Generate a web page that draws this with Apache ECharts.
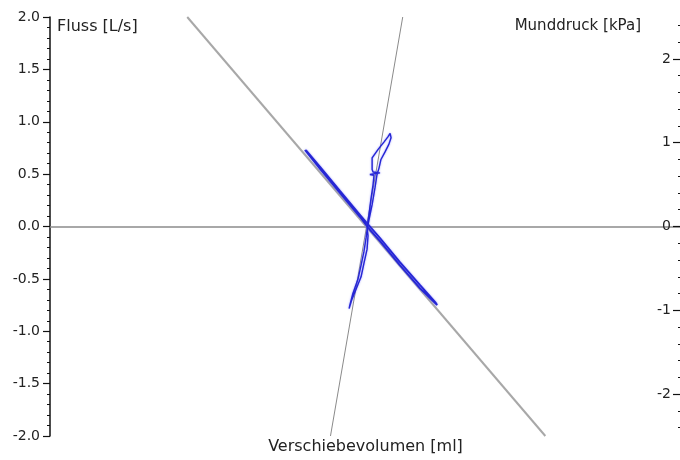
<!DOCTYPE html>
<html>
<head>
<meta charset="utf-8">
<script src="https://cdn.jsdelivr.net/npm/echarts@6/dist/echarts.min.js"></script>
<style>
  html, body { margin: 0; padding: 0; background: #ffffff; }
  #chart { width: 680px; height: 460px; }
</style>
</head>
<body>
<div id="chart"></div>
<script>
// Tick values for the pressure (right) axis
const pressureTicks = [-2, -1, 0, 1, 2];
const pressureMinorTicks = [-2.4, -2.2, -1.8, -1.6, -1.4, -1.2, -0.8, -0.6, -0.4, -0.2,
                            0.2, 0.4, 0.6, 0.8, 1.2, 1.4, 1.6, 1.8, 2.2, 2.4];

// Fitted lines: [Verschiebevolumen, Fluss] and [Verschiebevolumen, Munddruck]
const flowFitLine = [[-5.65, 2.0], [5.70, -2.0]];
const pressureFitLine = [[1.18, 2.5], [-1.11, -2.5]];

// Resistance loop: shift volume [ml] vs flow [L/s]
const flowLoop = [
  [-1.92, 0.73], [-1.44, 0.55], [-0.81, 0.32], [-0.17, 0.09], [0.08, -0.01],
  [0.46, -0.14], [1.09, -0.37], [1.73, -0.59], [2.27, -0.75],
  [2.23, -0.73], [1.73, -0.56], [1.09, -0.34], [0.46, -0.11], [0.08, 0.02],
  [-0.17, 0.11], [-0.81, 0.34], [-1.44, 0.57], [-1.89, 0.73]
];

// Occlusion loop: shift volume [ml] vs mouth pressure [kPa]
const pressureLoop = [
  [0.05, -0.01], [0.11, 0.14], [0.17, 0.32], [0.24, 0.50], [0.27, 0.61],
  [0.14, 0.62], [0.46, 0.64], [0.24, 0.65], [0.21, 0.68], [0.21, 0.82],
  [0.40, 0.92], [0.59, 1.01], [0.71, 1.07], [0.78, 1.11], [0.81, 1.06],
  [0.74, 0.98], [0.62, 0.89], [0.49, 0.80], [0.43, 0.70], [0.36, 0.61],
  [0.30, 0.46], [0.21, 0.26], [0.11, 0.08], [0.05, -0.04],
  [0.02, -0.13], [-0.05, -0.30], [-0.14, -0.46], [-0.24, -0.63], [-0.40, -0.80],
  [-0.49, -0.93], [-0.52, -0.98], [-0.43, -0.87], [-0.30, -0.75], [-0.14, -0.60],
  [-0.05, -0.44], [0.05, -0.27], [0.08, -0.11], [0.05, -0.01]
];

const font = 'DejaVu Sans';
const textColor = '#222';

const chart = echarts.init(document.getElementById('chart'), null, { renderer: 'canvas' });

chart.setOption({
  animation: false,
  backgroundColor: '#ffffff',
  grid: { left: 50, right: -1, top: 17, bottom: 24, containLabel: false, outerBoundsMode: 'none' },
  xAxis: {
    type: 'value',
    min: -10,
    max: 10,
    name: 'Verschiebevolumen [ml]',
    nameLocation: 'middle',
    nameGap: 3,
    nameTextStyle: { fontFamily: font, fontSize: 16, color: textColor },
    axisLine: { show: true, onZero: true, lineStyle: { color: '#8c8c8c', width: 1.5 } },
    axisTick: { show: false },
    axisLabel: { show: false },
    splitLine: { show: false }
  },
  yAxis: [
    {
      type: 'value',
      position: 'left',
      min: -2,
      max: 2,
      interval: 0.5,
      name: 'Fluss [L/s]',
      nameLocation: 'end',
      nameGap: -2,
      nameTextStyle: {
        fontFamily: font, fontSize: 16, color: textColor,
        align: 'left', verticalAlign: 'top', padding: [0, 0, 0, 7]
      },
      axisLine: { show: true, onZero: false, lineStyle: { color: '#111', width: 1.5 } },
      axisTick: { show: true, length: 7, lineStyle: { color: '#111', width: 1.2 } },
      minorTick: { show: true, splitNumber: 5, length: 3, lineStyle: { color: '#111', width: 1 } },
      axisLabel: {
        margin: 10, fontFamily: font, fontSize: 14, color: textColor,
        formatter: v => v.toFixed(1)
      },
      splitLine: { show: false }
    },
    {
      type: 'value',
      position: 'right',
      min: -2.5,
      max: 2.5,
      name: 'Munddruck [kPa]',
      nameLocation: 'end',
      nameGap: -2,
      nameTextStyle: {
        fontFamily: font, fontSize: 15, color: textColor,
        align: 'right', verticalAlign: 'top', padding: [0, 40, 0, 0]
      },
      axisLine: { show: false, onZero: false },
      axisTick: {
        show: true, inside: true, length: 8, customValues: pressureTicks,
        lineStyle: { color: '#111', width: 1.2 }
      },
      axisLabel: {
        inside: true, margin: 10, customValues: pressureTicks,
        fontFamily: font, fontSize: 14, color: textColor
      },
      splitLine: { show: false }
    },
    {
      type: 'value',
      position: 'right',
      min: -2.5,
      max: 2.5,
      axisLine: { show: false, onZero: false },
      axisTick: {
        show: true, inside: true, length: 3, customValues: pressureMinorTicks,
        lineStyle: { color: '#111', width: 1 }
      },
      axisLabel: { show: false },
      splitLine: { show: false }
    }
  ],
  series: [
    {
      type: 'line', yAxisIndex: 0, data: flowFitLine,
      showSymbol: false, silent: true,
      lineStyle: { color: '#a8a8a8', width: 2 }
    },
    {
      type: 'line', yAxisIndex: 1, data: pressureFitLine,
      showSymbol: false, silent: true,
      lineStyle: { color: '#8a8a8a', width: 1 }
    },
    {
      type: 'line', yAxisIndex: 0, data: flowLoop,
      showSymbol: false, silent: true,
      lineStyle: { color: '#2626d4', width: 1.8, shadowBlur: 2, shadowColor: 'rgba(80,80,255,0.6)' }
    },
    {
      type: 'line', yAxisIndex: 1, data: pressureLoop,
      showSymbol: false, silent: true,
      lineStyle: { color: '#2626d4', width: 1.4, shadowBlur: 2, shadowColor: 'rgba(80,80,255,0.6)' }
    }
  ]
});
</script>
</body>
</html>
